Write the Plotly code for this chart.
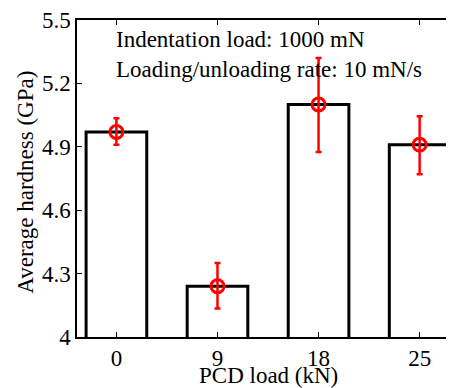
import plotly.graph_objects as go

categories = ["0", "9", "18", "25"]
hardness = [4.97, 4.24, 5.10, 4.91]
err_plus = [0.065, 0.11, 0.22, 0.135]
err_minus = [0.06, 0.105, 0.225, 0.14]
ytick_vals = [4, 4.3, 4.6, 4.9, 5.2, 5.5]
ytick_text = ["4", "4.3", "4.6", "4.9", "5.2", "5.5"]

FONT = "Times New Roman"

fig = go.Figure()
fig.add_trace(go.Bar(
    x=categories, y=hardness, width=0.6,
    marker=dict(color="white", line=dict(color="black", width=3)),
    showlegend=False,
))
fig.add_trace(go.Scatter(
    x=categories, y=hardness, mode="markers",
    marker=dict(symbol="circle-open", size=13, color="red", line=dict(color="red", width=3)),
    error_y=dict(type="data", symmetric=False, array=err_plus, arrayminus=err_minus,
                 color="red", thickness=2.5, width=3),
    showlegend=False,
))

fig.update_layout(
    width=446, height=380,
    margin=dict(l=69, r=0, t=10, b=51),
    plot_bgcolor="white", paper_bgcolor="white",
    font=dict(family=FONT, size=23, color="black"),
    xaxis=dict(type="category", range=[-0.39, 3.34], showline=True, linecolor="black",
               linewidth=1.5, mirror="ticks", ticks="inside", ticklen=5, tickcolor="black",
               tickfont=dict(family=FONT, size=23), showgrid=False),
    yaxis=dict(range=[4, 5.5], tickmode="array", tickvals=ytick_vals, ticktext=ytick_text,
               showline=True, linecolor="black", linewidth=1.5, ticks="inside", ticklen=5,
               tickcolor="black", tickfont=dict(family=FONT, size=23), showgrid=False,
               zeroline=False, ticklabeloverflow="allow"),
    annotations=[
        dict(text="Indentation load: 1000 mN<br>Loading/unloading rate: 10 mN/s",
             xref="paper", yref="paper", x=0.098, y=0.985, xanchor="left", yanchor="top",
             showarrow=False, align="left", font=dict(family=FONT, size=23)),
        dict(text="PCD load (kN)", xref="x", yref="paper", x=1.5, y=-0.075,
             xanchor="center", yanchor="top", showarrow=False, font=dict(family=FONT, size=23)),
        dict(text="Average hardness (GPa)", xref="paper", yref="paper", x=-0.135, y=0.487,
             xanchor="center", yanchor="middle", textangle=-90, showarrow=False,
             font=dict(family=FONT, size=23)),
    ],
)

fig.write_html("out.html")
